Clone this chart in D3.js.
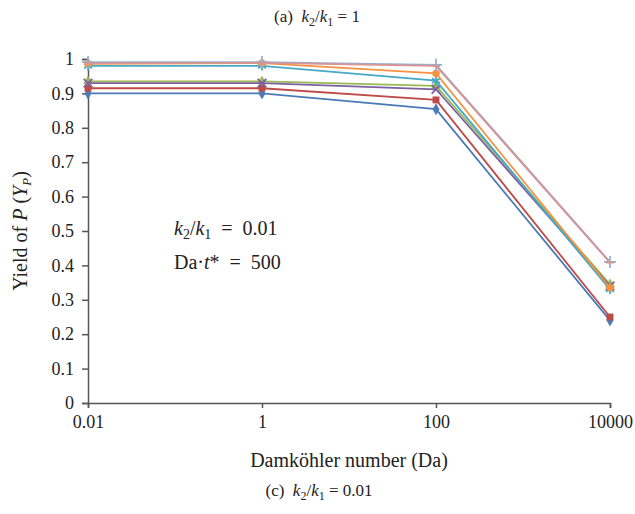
<!DOCTYPE html>
<html>
<head>
<meta charset="utf-8">
<script src="https://cdn.jsdelivr.net/npm/d3@7"></script>
<style>
  body { margin: 0; background: #fff; }
  text { font-family: 'Liberation Serif', 'DejaVu Serif', serif; fill: #222; }
</style>
</head>
<body>
<script>
// Damköhler numbers on the x axis
const daValues = [0.01, 1, 100, 10000]
const xTickLabels = ['0.01', '1', '100', '10000']
const yTicks = [0, 0.1, 0.2, 0.3, 0.4, 0.5, 0.6, 0.7, 0.8, 0.9, 1]

const seriesNames = ['s1', 's2', 's3', 's4', 's5', 's6', 's7', 's8']
const seriesColors = ['#4a7bb7', '#be4b48', '#98b954', '#7d60a0', '#46aac5', '#f59343', '#93b1d6', '#d99593']
const seriesMarkers = ['diamond', 'square', 'triangle', 'cross', 'star', 'circle', 'plus', 'dash']

const yieldS1 = [0.900, 0.900, 0.854, 0.240]
const yieldS2 = [0.915, 0.915, 0.881, 0.250]
const yieldS3 = [0.935, 0.935, 0.922, 0.345]
const yieldS4 = [0.930, 0.930, 0.912, 0.340]
const yieldS5 = [0.980, 0.980, 0.937, 0.330]
const yieldS6 = [0.986, 0.988, 0.958, 0.335]
const yieldS7 = [0.991, 0.991, 0.983, 0.410]
const yieldS8 = [0.988, 0.989, 0.980, 0.408]
const allYields = [yieldS1, yieldS2, yieldS3, yieldS4, yieldS5, yieldS6, yieldS7, yieldS8]

const width = 635
const height = 514
const margin = { top: 59, left: 88, right: 25, bottom: 111 }

const svg = d3.select('body').append('svg')
  .attr('width', width)
  .attr('height', height)

const x = d3.scaleLog()
  .domain([0.01, 10000])
  .range([margin.left, width - margin.right])
const y = d3.scaleLinear()
  .domain([0, 1])
  .range([height - margin.bottom, margin.top])

// axes
const xAxis = svg.append('g')
  .attr('transform', `translate(0,${y(0)})`)
  .call(d3.axisBottom(x).tickValues(daValues).tickFormat((d, i) => xTickLabels[i]).tickSize(5).tickPadding(5))
const yAxis = svg.append('g')
  .attr('transform', `translate(${x(0.01)},0)`)
  .call(d3.axisLeft(y).tickValues(yTicks).tickFormat(d => d === 0 || d === 1 ? d : d.toFixed(1)).tickSize(6).tickPadding(8))

for (const ax of [xAxis, yAxis]) {
  ax.select('.domain').attr('stroke', '#555').attr('stroke-width', 1.5)
  ax.selectAll('.tick line').attr('stroke', '#555').attr('stroke-width', 1.5)
  ax.selectAll('.tick text').style('font-size', '18px').attr('fill', '#222')
}
xAxis.selectAll('.tick text').attr('dy', '0.85em')

// lines
const line = d3.line()
  .x((d, i) => x(daValues[i]))
  .y(d => y(d))

const symbolFor = {
  diamond: d3.symbol(d3.symbolDiamond, 36),
  square: d3.symbol(d3.symbolSquare, 40),
  triangle: d3.symbol(d3.symbolTriangle, 36),
  circle: d3.symbol(d3.symbolCircle, 40),
  cross: d3.symbol(d3.symbolX, 50),
  plus: d3.symbol(d3.symbolPlus, 50),
  star: d3.symbol(d3.symbolAsterisk, 60)
}

allYields.forEach((vals, s) => {
  const color = seriesColors[s]
  svg.append('path')
    .datum(vals)
    .attr('d', line)
    .attr('fill', 'none')
    .attr('stroke', color)
    .attr('stroke-width', 1.8)

  const m = seriesMarkers[s]
  const open = m === 'cross' || m === 'plus' || m === 'star' || m === 'dash'
  const g = svg.append('g').attr('class', seriesNames[s])
  g.selectAll('path.mark')
    .data(vals)
    .join('path')
    .attr('class', 'mark')
    .attr('transform', (d, i) => `translate(${x(daValues[i])},${y(d)})`)
    .attr('d', m === 'dash' ? 'M-4,0H4' : symbolFor[m]())
    .attr('fill', open ? 'none' : color)
    .attr('stroke', color)
    .attr('stroke-width', open ? 1.8 : 0.5)
})

// k2/k1 style label helper
function ratio (sel, sub) {
  sel.append('tspan').attr('font-style', 'italic').text('k')
  sel.append('tspan').attr('font-size', sub).attr('dy', 4).text('2')
  sel.append('tspan').attr('dy', -4).text('/')
  sel.append('tspan').attr('font-style', 'italic').text('k')
  sel.append('tspan').attr('font-size', sub).attr('dy', 4).text('1')
  return sel.append('tspan').attr('dy', -4)
}

// titles
const topTitle = svg.append('text')
  .attr('x', 317).attr('y', 22)
  .attr('text-anchor', 'middle')
  .style('font-size', '17px')
topTitle.append('tspan').text('(a)\u2002')
ratio(topTitle, '12px').text(' = 1')

const bottomTitle = svg.append('text')
  .attr('x', 319).attr('y', 496)
  .attr('text-anchor', 'middle')
  .style('font-size', '17px')
bottomTitle.append('tspan').text('(c)\u2002')
ratio(bottomTitle, '12px').text(' = 0.01')

svg.append('text')
  .attr('x', 349).attr('y', 467)
  .attr('text-anchor', 'middle')
  .style('font-size', '20px')
  .text('Damköhler number (Da)')

const ylab = svg.append('text')
  .attr('transform', 'translate(27,231) rotate(-90)')
  .attr('text-anchor', 'middle')
  .style('font-size', '20px')
ylab.append('tspan').text('Yield of ')
ylab.append('tspan').attr('font-style', 'italic').text('P')
ylab.append('tspan').text(' (')
ylab.append('tspan').attr('font-style', 'italic').text('Y')
ylab.append('tspan').attr('font-style', 'italic').attr('font-size', '13px').attr('dy', 4).text('P')
ylab.append('tspan').attr('dy', -4).text(')')

// annotation
const ann1 = svg.append('text')
  .attr('x', 174).attr('y', 235)
  .style('font-size', '20px')
ratio(ann1, '14px').text('\u2002=\u20020.01')

const ann2 = svg.append('text')
  .attr('x', 174).attr('y', 269)
  .style('font-size', '20px')
ann2.append('tspan').text('Da\u00b7')
ann2.append('tspan').attr('font-style', 'italic').text('t')
ann2.append('tspan').text('*\u2002=\u2002500')
</script>
</body>
</html>
